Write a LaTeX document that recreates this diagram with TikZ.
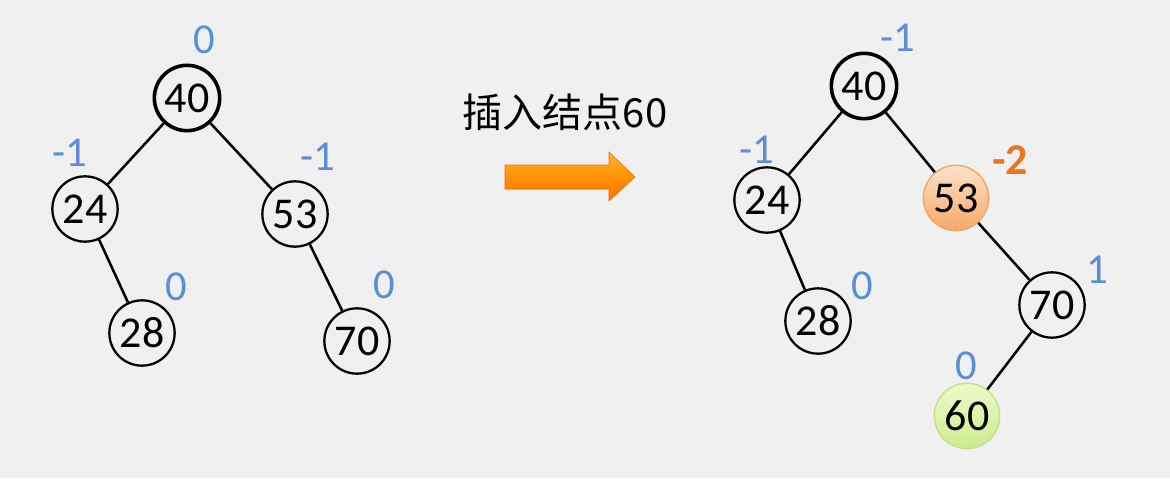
\documentclass[tikz,border=0pt]{standalone}
\usepackage{fontspec}
\setmainfont{Carlito}
\newfontfamily\cjk{Noto Sans CJK SC}
\definecolor{bg}{HTML}{F0F0F0}
\definecolor{bal}{HTML}{5A8FD8}
\definecolor{warn}{HTML}{E87722}
\definecolor{hotA}{HTML}{FDE2CA}
\definecolor{hotB}{HTML}{F6A866}
\definecolor{hotD}{HTML}{F2A462}
\definecolor{newA}{HTML}{EEF9C8}
\definecolor{newB}{HTML}{CDEB8E}
\definecolor{newD}{HTML}{C2E08A}
\tikzset{
  tn/.style={circle, draw=black, line width=1.7pt, minimum size=49pt, inner sep=0pt, font=\fontsize{33}{33}\selectfont, fill=bg},
  rootn/.style={tn, line width=2.7pt},
  hot/.style={tn, draw=hotD, line width=1pt, top color=hotA, bottom color=hotB},
  newn/.style={tn, draw=newD, line width=1pt, top color=newA, bottom color=newB},
  edge/.style={line width=1.9pt, black},
  bf/.style={text=bal, font=\fontsize{32}{32}\selectfont, inner sep=0pt},
  bfw/.style={text=warn, font=\bfseries\fontsize{33}{33}\selectfont, inner sep=0pt}
}
\begin{document}
\begin{tikzpicture}[x=0.75pt, y=-0.75pt]
\fill[bg] (0,0) rectangle (1170,478);
\useasboundingbox (0,0) rectangle (1170,478);
% left tree
\node[rootn] (l40) at (187,98) {40};
\node[tn] (l24) at (85,209) {24};
\node[tn] (l53) at (295,214) {53};
\node[tn] (l28) at (142,333) {28};
\node[tn] (l70) at (357,341) {70};
\draw[edge] (l40) -- (l24);
\draw[edge] (l40) -- (l53);
\draw[edge] (l24) -- (l28);
\draw[edge] (l53) -- (l70);
\node[bf] (lb40) at (204,40) {0};
\node[bf] (lb24) at (70,153) {-1};
\node[bf] (lb53) at (318,157) {-1};
\node[bf] (lb28) at (176,287) {0};
\node[bf] (lb70) at (384,285) {0};
% arrow and caption
\node[font=\cjk\fontsize{30}{30}\selectfont, inner sep=0pt] (cap) at (565,112) {插入结点60};
\shade[top color=orange!70!yellow!80!white, bottom color=orange!90!red, middle color=orange!85!yellow, draw=orange!80!red, line width=0.4pt]
  (505,165) -- (609,165) -- (609,152) -- (635,177) -- (609,201) -- (609,189) -- (505,189) -- cycle;
% right tree
\node[rootn] (r40) at (864,86) {40};
\node[tn] (r24) at (767,200) {24};
\node[hot] (r53) at (956,198) {53};
\node[tn] (r28) at (818,321) {28};
\node[tn] (r70) at (1052,305) {70};
\node[newn] (r60) at (967,416) {60};
\draw[edge] (r40) -- (r24);
\draw[edge] (r40) -- (r53);
\draw[edge] (r24) -- (r28);
\draw[edge] (r53) -- (r70);
\draw[edge] (r70) -- (r60);
\node[bf] (rb40) at (898,38) {-1};
\node[bf] (rb24) at (757,150) {-1};
\node[bfw] (rb53) at (1010,160) {-2};
\node[bf] (rb28) at (862,286) {0};
\node[bf] (rb70) at (1097,270) {1};
\node[bf] (rb60) at (966,366) {0};
\end{tikzpicture}
\end{document}
